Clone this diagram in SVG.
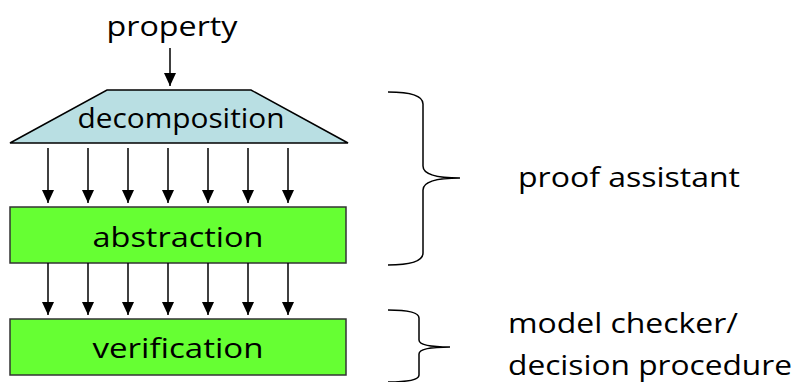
<svg xmlns="http://www.w3.org/2000/svg" width="792" height="382" viewBox="0 0 792 382">
<defs>
<marker id="ah" markerWidth="13" markerHeight="12" refX="13" refY="6" orient="auto" markerUnits="userSpaceOnUse">
<path d="M0,0 L13,6 L0,12 Z" fill="#000"/>
</marker>
<style>
text{font-family:"Open Sans","DejaVu Sans",sans-serif;font-size:28px;fill:#000}
.c{text-anchor:middle}
.box{fill:#66ff33;stroke:#333;stroke-width:1.5}
.arr{stroke:#000;stroke-width:1.5;fill:none;marker-end:url(#ah)}
.br{stroke:#000;stroke-width:1.5;fill:none}
</style>
</defs>
<rect width="792" height="382" fill="#fff"/>
<g id="property"><text class="c" x="172" y="36" textLength="131" lengthAdjust="spacingAndGlyphs">property</text></g>
<g id="decomposition">
<polygon points="107,90 251,90 348,143 10,143" fill="#b9dfe3" stroke="#000" stroke-width="1.5"/>
<text class="c" x="181" y="128" textLength="207" lengthAdjust="spacingAndGlyphs">decomposition</text>
</g>
<g id="abstraction">
<rect class="box" x="10" y="207" width="336" height="56"/>
<text class="c" x="178" y="247" textLength="171" lengthAdjust="spacingAndGlyphs">abstraction</text>
</g>
<g id="verification">
<rect class="box" x="10" y="319" width="336" height="56"/>
<text class="c" x="178" y="358" textLength="171" lengthAdjust="spacingAndGlyphs">verification</text>
</g>
<g id="connectors">
<line class="arr" x1="170" y1="48" x2="170" y2="86"/>
<line class="arr" x1="48" y1="148" x2="48" y2="203"/>
<line class="arr" x1="88" y1="148" x2="88" y2="203"/>
<line class="arr" x1="128" y1="148" x2="128" y2="203"/>
<line class="arr" x1="168" y1="148" x2="168" y2="203"/>
<line class="arr" x1="208" y1="148" x2="208" y2="203"/>
<line class="arr" x1="248" y1="148" x2="248" y2="203"/>
<line class="arr" x1="288" y1="148" x2="288" y2="203"/>
<line class="arr" x1="48" y1="263" x2="48" y2="315"/>
<line class="arr" x1="88" y1="263" x2="88" y2="315"/>
<line class="arr" x1="128" y1="263" x2="128" y2="315"/>
<line class="arr" x1="168" y1="263" x2="168" y2="315"/>
<line class="arr" x1="208" y1="263" x2="208" y2="315"/>
<line class="arr" x1="248" y1="263" x2="248" y2="315"/>
<line class="arr" x1="288" y1="263" x2="288" y2="315"/>
</g>
<g id="brace-proof">
<path class="br" d="M388,92 Q423,92 423,104 L423,166 Q423,178 460,178 Q423,178 423,190 L423,253 Q423,265 388,265"/>
<text x="518" y="187" textLength="222" lengthAdjust="spacingAndGlyphs">proof assistant</text>
</g>
<g id="brace-model">
<path class="br" d="M388,310 Q419,310 419,318 L419,340 Q419,347 450,347 Q419,347 419,354 L419,375 Q419,382 388,382"/>
<text x="508" y="333" textLength="230" lengthAdjust="spacingAndGlyphs">model checker/</text>
<text x="508" y="375" textLength="284" lengthAdjust="spacingAndGlyphs">decision procedure</text>
</g>
</svg>
